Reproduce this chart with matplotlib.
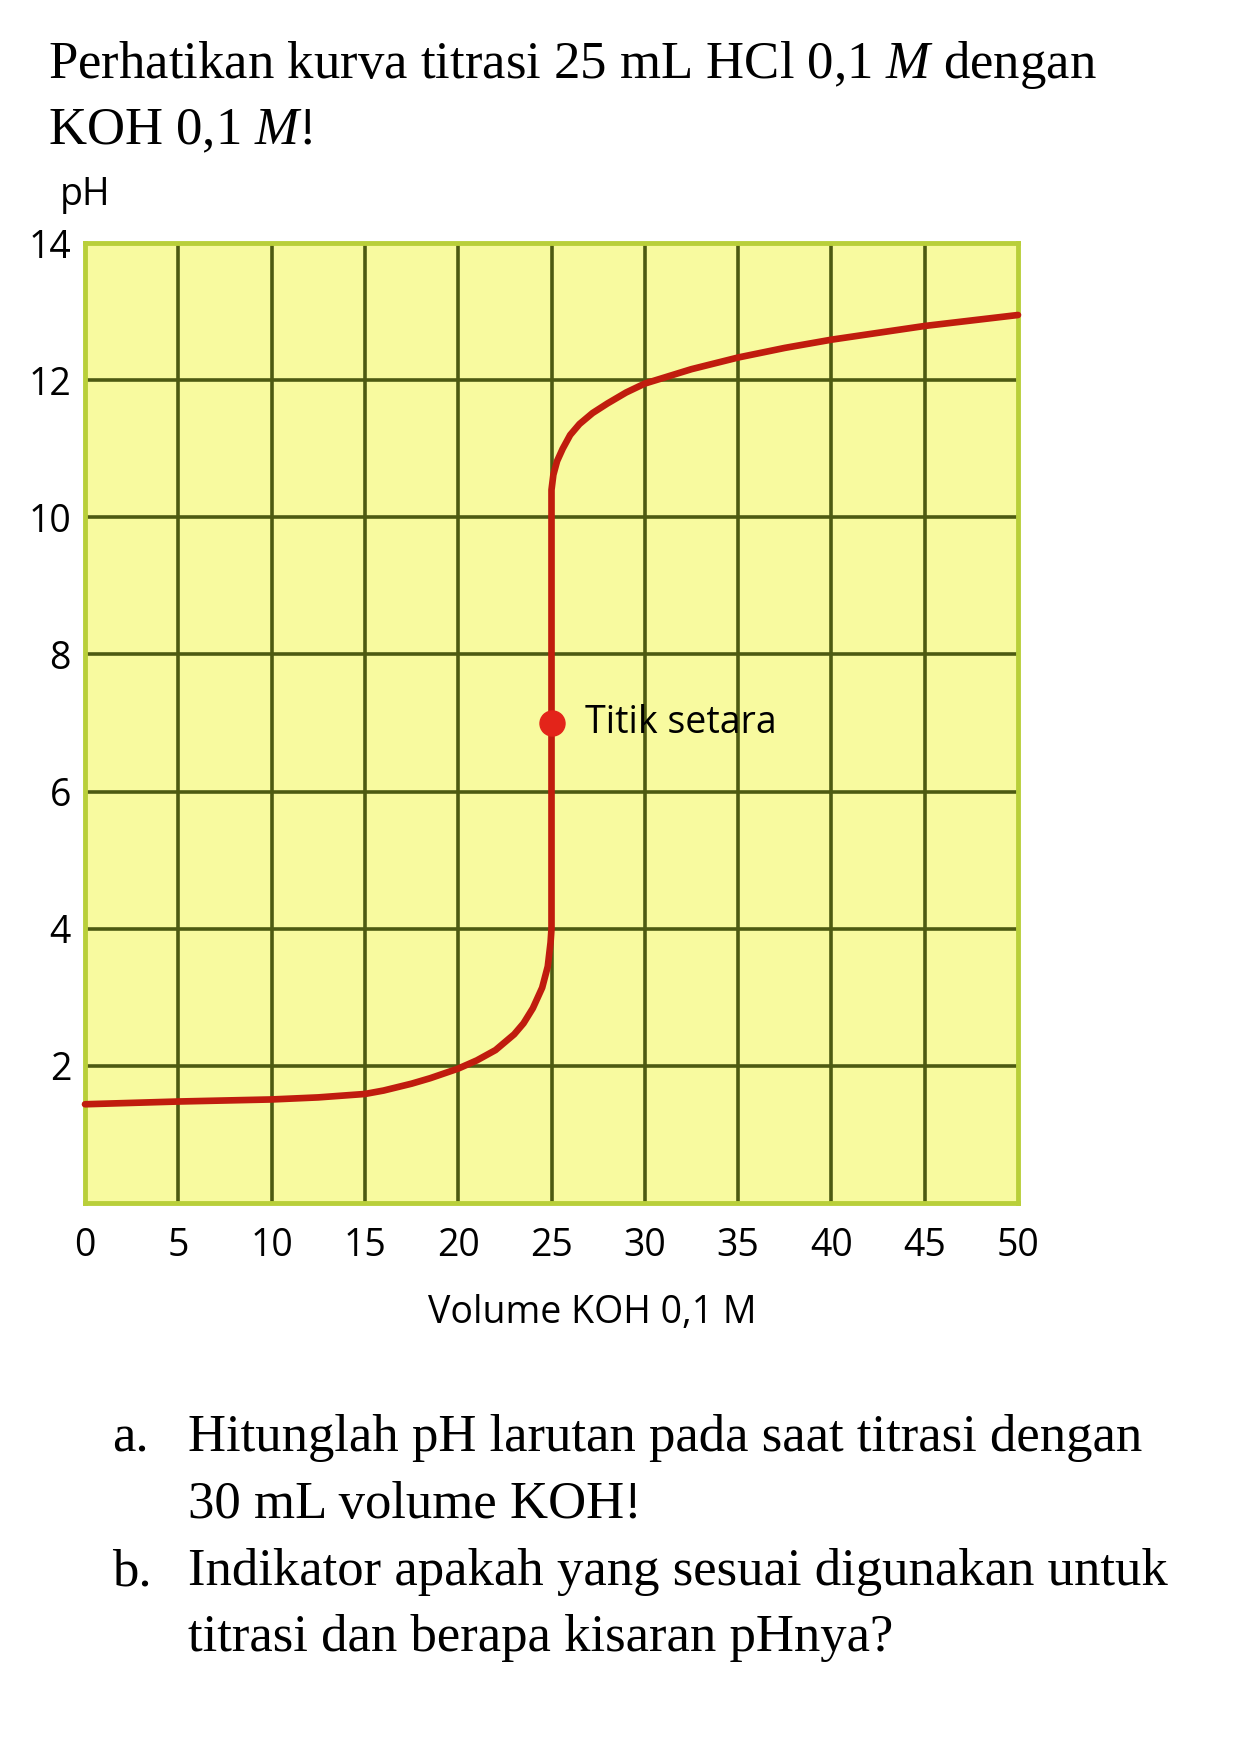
import matplotlib.pyplot as plt

# --- data ---
volume_koh = [0, 5, 10, 12.5, 15, 16, 17.5, 18.5, 20, 21, 22, 23, 23.5, 24, 24.5, 24.8, 24.95, 25,
              25, 25.1, 25.3, 25.6, 26, 26.5, 27.2, 28, 29, 30, 32.5, 35, 37.5, 40, 45, 50]
ph_values = [1.44, 1.48, 1.51, 1.54, 1.59, 1.64, 1.74, 1.82, 1.96, 2.08, 2.23, 2.46, 2.62, 2.84, 3.14, 3.45, 3.8, 4.0,
             10.4, 10.62, 10.82, 11.0, 11.2, 11.36, 11.52, 11.66, 11.82, 11.95, 12.16, 12.33, 12.47, 12.59, 12.79, 12.95]
eq_point = (25, 7)

x_ticks = [0, 5, 10, 15, 20, 25, 30, 35, 40, 45, 50]
y_grid = [0, 2, 4, 6, 8, 10, 12, 14]
y_ticks = [2, 4, 6, 8, 10, 12, 14]

title_lines = ["Perhatikan kurva titrasi 25 mL HCl 0,1 $M$ dengan", "KOH 0,1 $M$!"]
question_marks = ["a.", "b."]
question_lines = [["Hitunglah pH larutan pada saat titrasi dengan", "30 mL volume KOH!"],
                  ["Indikator apakah yang sesuai digunakan untuk", "titrasi dan berapa kisaran pHnya?"]]

# --- styles ---
plt.rcParams["mathtext.fontset"] = "custom"
plt.rcParams["mathtext.rm"] = "Liberation Serif"
plt.rcParams["mathtext.it"] = "Liberation Serif:italic"

W, H = 1252, 1753
fig = plt.figure(figsize=(W / 100, H / 100), dpi=100)
fig.patch.set_facecolor("white")


def fx(px):
    return px / W


def fy(py):
    return 1 - py / H


serif = dict(family="Liberation Serif", size=38, color="black")
sans = dict(family="Open Sans", size=27, color="black")

# --- plot area ---
left, right, top, bottom = 85, 1018, 243, 1203
ax = fig.add_axes([fx(left), fy(bottom), fx(right - left), (bottom - top) / H])
ax.set_facecolor("#f8fa9f")
ax.set_xlim(0, 50)
ax.set_ylim(0, 14)

for xv in x_ticks[1:-1]:
    ax.axvline(xv, color="#4d5a12", lw=2.6, zorder=1)
for yv in y_grid[1:-1]:
    ax.axhline(yv, color="#4d5a12", lw=2.6, zorder=1)
for s in ax.spines.values():
    s.set_color("#b9cf3a")
    s.set_linewidth(3.5)

ax.plot(volume_koh, ph_values, color="#c01c0e", lw=4.8, solid_joinstyle="round",
        solid_capstyle="round", zorder=3, clip_on=False)
ax.plot(*eq_point, marker="o", ms=18, color="#e3241a", zorder=4)
ax.text(eq_point[0] + 1.8, eq_point[1], "Titik setara", ha="left", va="center", **sans)

ax.set_xticks(x_ticks)
ax.set_xticklabels([str(v) for v in x_ticks], **sans)
ax.set_yticks(y_ticks)
ax.set_yticklabels([str(v) for v in y_ticks], **sans)
ax.tick_params(axis="x", length=0, pad=17)
ax.tick_params(axis="y", length=0, pad=10)

# --- texts around the chart ---
fig.text(fx(60), fy(205), "pH", ha="left", va="baseline", **sans)
fig.text(fx(592), fy(1323), "Volume KOH 0,1 M", ha="center", va="baseline", **sans)

fig.text(fx(48), fy(78), title_lines[0], ha="left", va="baseline", **serif)
fig.text(fx(48), fy(144), title_lines[1], ha="left", va="baseline", **serif)

baselines = [[1451, 1518], [1585, 1651]]
for mark, lines, ys in zip(question_marks, question_lines, baselines):
    fig.text(fx(112), fy(ys[0]), mark, ha="left", va="baseline", **serif)
    for line, yb in zip(lines, ys):
        fig.text(fx(188), fy(yb), line, ha="left", va="baseline", **serif)

fig.savefig("out.png", dpi=100)
